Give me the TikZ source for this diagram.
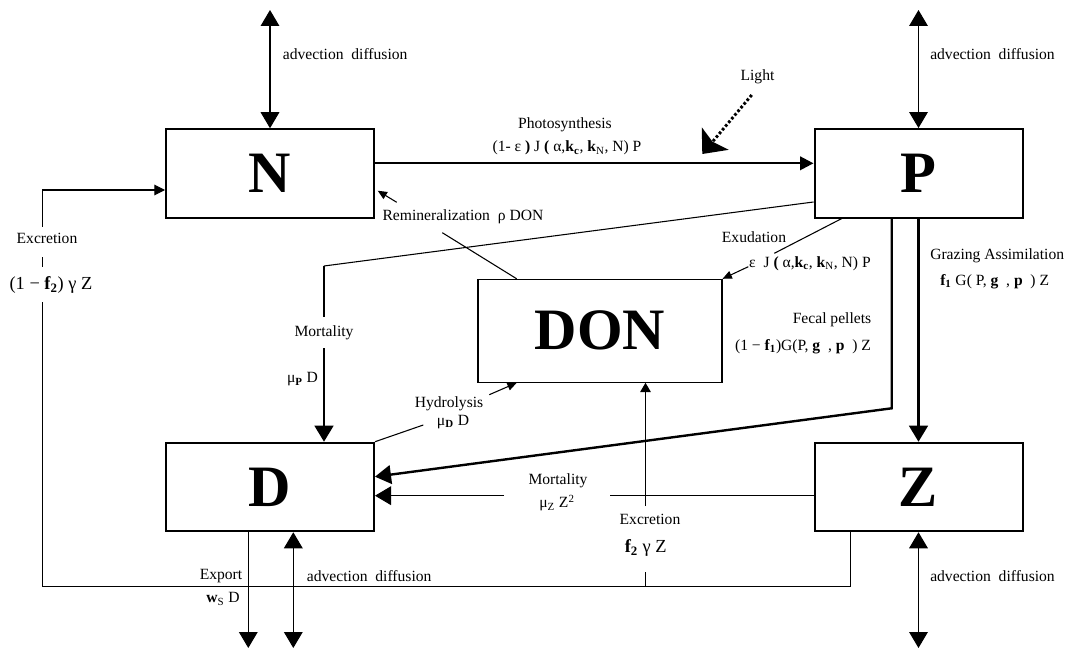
\documentclass[tikz,border=0pt]{standalone}
\usepackage{fontspec}
\setmainfont{Liberation Serif}
\usetikzlibrary{arrows.meta}
\tikzset{
  box/.style={draw, line width=1.5pt, minimum width=156pt, minimum height=66.4pt, inner sep=0pt, font=\fontsize{44}{44}\selectfont\bfseries},
  donbox/.style={draw, line width=0.8pt, minimum width=183pt, minimum height=77.2pt, inner sep=0pt, font=\fontsize{44}{44}\selectfont\bfseries},
  thinl/.style={line width=0.8pt},
  thickl/.style={line width=1.8pt},
  bighead/.style={-{Triangle[width=14pt,length=12pt]}},
  midhead/.style={-{Triangle[width=8pt,length=8pt]}},
  smallhead/.style={-{Triangle[width=6pt,length=7pt]}},
  adv/.style={{Triangle[width=14pt,length=12pt]}-{Triangle[width=14pt,length=12pt]}},
  lbl/.style={font=\fontsize{11.7}{13.5}\selectfont, inner sep=0pt},
  biglbl/.style={font=\fontsize{13.8}{15.5}\selectfont, inner sep=0pt},
}
\begin{document}
\begin{tikzpicture}[x=0.75pt,y=-0.75pt]
\useasboundingbox (0,0) rectangle (1065,649);
% boxes
\node[box] (N) at (270,173.5) {N};
\node[box] (P) at (918.5,173.3) {P};
\node[box] (D) at (270,487) {D};
\node[box] (Z) at (918.5,487) {Z};
\node[donbox] (DON) at (600,330.8) {DON};

% advection diffusion
\coordinate (Ntop) at (270,10);
\coordinate (Ptop) at (918.5,10);
\coordinate (Dbot) at (293.3,648);
\coordinate (Zbot) at (918.5,648);
\coordinate (Ebot) at (248.3,648);
\draw[thinl, adv] (Ntop) -- (N.north);
\draw[thinl, adv] (Ptop) -- (P.north);
\draw[thinl, adv] (D.south -| Dbot) -- (Dbot);
\draw[thinl, adv] (Z.south) -- (Zbot);
\node[lbl, anchor=west] (advN) at (282.7,54) {advection\ \ diffusion};
\node[lbl, anchor=west] (advP) at (930,54) {advection\ \ diffusion};
\node[lbl, anchor=west] (advD) at (306.7,575.7) {advection\ \ diffusion};
\node[lbl, anchor=west] (advZ) at (930,575.7) {advection\ \ diffusion};

% export
\draw[thinl, bighead] (D.south -| Ebot) -- (Ebot);
\node[lbl] (exp) at (221,575.7) {Export};
\node[lbl] (expf) at (223,599) {\textbf{w}\textsubscript{S} D};

% photosynthesis
\draw[thickl, -{Triangle[width=10pt,length=10pt]}] (N.east |- 0,163.3) -- (P.west |- 0,163.3);
\node[lbl] (phot) at (565,125) {Photosynthesis};
\node[lbl] (photf) at (567,148) {(1- ε \textbf{)} J \textbf{(} α,\textbf{k\textsubscript{c}}, \textbf{k}\textsubscript{N}, N) P};

% light
\node[lbl] (light) at (757.5,77) {Light};
\coordinate (ls) at (751.7,95);
\coordinate (lt) at (702.3,154);
\draw[line width=2.2pt, dash pattern=on 2pt off 1.6pt, -{Stealth[length=15pt,width=26pt,inset=3pt]}] (ls) -- (lt);

% mortality P -> D
\coordinate (m1) at (324,266);
\coordinate (m2) at (324,317);
\coordinate (m3) at (324,348);
\draw[thinl] (P.west |- 0,202) -- (m1);
\draw[thickl] (m1) -- (m2);
\draw[thickl, bighead] (m3) -- (D.north -| m3);
\node[lbl] (mortP) at (324,332.3) {Mortality};
\node[lbl] (mortPf) at (302.5,379.3) {μ\textsubscript{\textbf{P}} D};

% fecal pellets P -> D
\coordinate (fp) at (891.7,408.3);
\draw[thickl, line join=miter, bighead] (P.south -| fp) -- (fp) -- (D.east |- 0,476.7);
\node[lbl] (fec) at (832,320) {Fecal pellets};
\node[lbl] (fecf) at (803,346.7) {(1 − \textbf{f\textsubscript{1}})G(P, \textbf{g}\ \ , \textbf{p}\ \ ) Z};

% grazing
\draw[thickl, bighead] (P.south) -- (Z.north);
\node[lbl, anchor=west] (graz) at (930,256) {Grazing Assimilation};
\node[lbl, anchor=west] (grazf) at (940,281.7) {\textbf{f\textsubscript{1}} G( P, \textbf{g}\ \ , \textbf{p}\ \ ) Z};

% mortality Z -> D
\coordinate (mz1) at (609.5,495.7);
\coordinate (mz2) at (504,495.7);
\draw[thinl] (Z.west |- mz1) -- (mz1);
\draw[thinl, bighead] (mz2) -- (D.east |- mz2);
\node[lbl] (mortZ) at (558,481) {Mortality};
\node[lbl] (mortZf) at (557,503) {μ\textsubscript{Z} Z\textsuperscript{2}};

% excretion loop
\coordinate (e1) at (850.7,586.7);
\coordinate (e2) at (42.7,586.7);
\coordinate (e3) at (42.7,302);
\coordinate (e4) at (42.7,267);
\coordinate (e5) at (42.7,257);
\coordinate (e6) at (42.7,227);
\coordinate (e7) at (42.7,190);
\draw[thinl] (Z.south -| e1) -- (e1) -- (e2) -- (e3);
\draw[thinl] (e4) -- (e5);
\draw[thinl, midhead] (e6) -- (e7) -- (N.west |- e7);
\node[lbl] (excL) at (47,238) {Excretion};
\node[biglbl] (excLf) at (51,285) {(1 − \textbf{f\textsubscript{2}}) γ Z};

% excretion to DON
\coordinate (x1) at (645.5,586.7);
\coordinate (x2) at (645.5,571.7);
\coordinate (x3) at (645.5,506);
\draw[thinl] (x1) -- (x2);
\draw[thinl, -{Triangle[width=8pt,length=7pt]}] (x3) -- (DON.south -| x3);
\node[lbl] (excD) at (650,519.3) {Excretion};
\node[biglbl] (excDf) at (645.7,548.3) {\textbf{f\textsubscript{2}} γ Z};

% remineralization
\coordinate (r1) at (442.3,232.7);
\coordinate (r2) at (396.7,202.3);
\coordinate (r3) at (377.7,190.7);
\draw[thinl] (DON.north -| 516.7,0) -- (r1);
\draw[thinl, smallhead] (r2) -- (r3);
\node[lbl, anchor=west] (rem) at (382.3,216.7) {Remineralization\ \ ρ DON};

% exudation
\coordinate (u1) at (774.3,253.3);
\coordinate (u2) at (748.3,266.7);
\draw[thinl] (P.south -| 841.7,0) -- (u1);
\draw[thinl, smallhead] (u2) -- (DON.north east);
\node[lbl] (exu) at (754,237.3) {Exudation};
\node[lbl] (exuf) at (810,263.3) {ε\ \ J \textbf{(} α,\textbf{k\textsubscript{c}}, \textbf{k}\textsubscript{N}, N) P};

% hydrolysis
\coordinate (h1) at (423.3,425);
\coordinate (h2) at (489.3,394.7);
\draw[thinl] (D.north east) -- (h1);
\draw[thinl, smallhead] (h2) -- (DON.south -| 516.7,0);
\node[lbl] (hyd) at (449,404) {Hydrolysis};
\node[lbl] (hydf) at (453,421.7) {μ\textsubscript{\textbf{D}} D};
\end{tikzpicture}
\end{document}
